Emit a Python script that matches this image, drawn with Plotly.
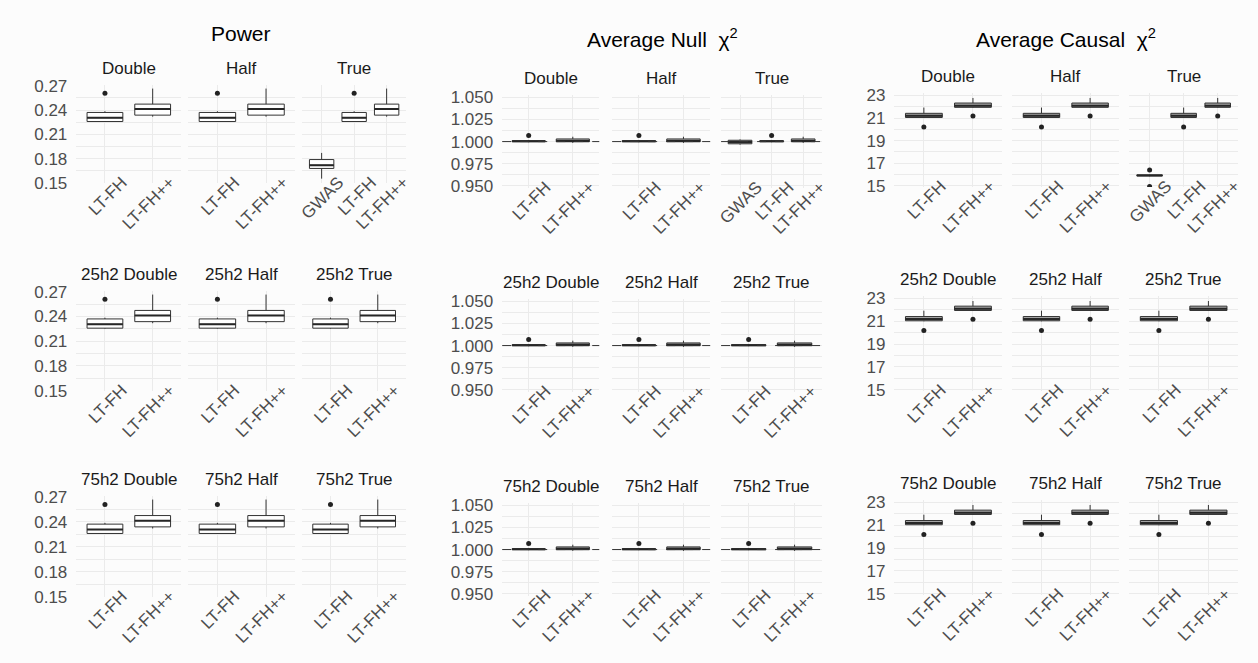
import plotly.graph_objects as go

W, H = 1258, 663

FACETS = ["Double", "Half", "True"]
ROW_PREFIX = ["", "25h2 ", "75h2 "]
METHODS_ALL = ["GWAS", "LT-FH", "LT-FH++"]
METHODS_REL = ["LT-FH", "LT-FH++"]

# box statistics: [lower whisker, q1, median, q3, upper whisker]
POWER_GWAS = [0.1552, 0.1678, 0.1718, 0.1788, 0.1870]
POWER_GWAS_OUT = []
POWER_LTFH = [0.2252, 0.2258, 0.2305, 0.2370, 0.2385]
POWER_LTFH_OUT = [0.2607]
POWER_LTFHPP = [0.2318, 0.2337, 0.2412, 0.2473, 0.2665]
POWER_LTFHPP_OUT = []

NULL_GWAS = [0.9965, 0.9975, 0.9995, 1.0015, 1.0025]
NULL_GWAS_OUT = []
NULL_LTFH = [0.9993, 0.9999, 1.0003, 1.0010, 1.0018]
NULL_LTFH_OUT = [1.0068]
NULL_LTFHPP = [0.9985, 0.9998, 1.0008, 1.0030, 1.0055]
NULL_LTFHPP_OUT = []

CAUSAL_GWAS = [15.85, 15.88, 15.92, 15.97, 16.00]
CAUSAL_GWAS_OUT = [14.95, 16.40]
CAUSAL_LTFH = [21.00, 21.05, 21.20, 21.42, 21.93]
CAUSAL_LTFH_OUT = [20.20]
CAUSAL_LTFHPP = [21.92, 21.95, 22.10, 22.33, 22.78]
CAUSAL_LTFHPP_OUT = [21.18]

POWER_TICKS = [0.15, 0.18, 0.21, 0.24, 0.27]
NULL_TICKS = [0.950, 0.975, 1.000, 1.025, 1.050]
CAUSAL_TICKS = [15, 17, 19, 21, 23]

FONT = "Liberation Sans, Arial, sans-serif"
GRID = "#ebebeb"
BG = "#fcfcfc"

blocks = [
    dict(title="Power",
         stats={"GWAS": (POWER_GWAS, POWER_GWAS_OUT), "LT-FH": (POWER_LTFH, POWER_LTFH_OUT),
                "LT-FH++": (POWER_LTFHPP, POWER_LTFHPP_OUT)},
         ticks=POWER_TICKS, fmt=".2f", yrange=[0.1495, 0.2705], fill="#ffffff", hline=None,
         cols=[(72, 178), (185, 293), (300, 405)],
         rows=[(78.6, 179.4), (290.6, 393.4), (501.6, 605.4)], title_y=25),
    dict(title="Average Null  χ<sup>2</sup>",
         stats={"GWAS": (NULL_GWAS, NULL_GWAS_OUT), "LT-FH": (NULL_LTFH, NULL_LTFH_OUT),
                "LT-FH++": (NULL_LTFHPP, NULL_LTFHPP_OUT)},
         ticks=NULL_TICKS, fmt=".3f", yrange=[0.9475, 1.0525], fill="#a8a8a8", hline=1.0,
         cols=[(502, 600), (613, 712), (723, 825)],
         rows=[(88.7, 184.3), (298.7, 394.3), (508.7, 604.3)], title_y=30),
    dict(title="Average Causal  χ<sup>2</sup>",
         stats={"GWAS": (CAUSAL_GWAS, CAUSAL_GWAS_OUT), "LT-FH": (CAUSAL_LTFH, CAUSAL_LTFH_OUT),
                "LT-FH++": (CAUSAL_LTFHPP, CAUSAL_LTFHPP_OUT)},
         ticks=CAUSAL_TICKS, fmt="d", yrange=[14.9, 23.2], fill="#a8a8a8", hline=None,
         cols=[(898, 1007), (1017, 1125), (1135, 1245)],
         rows=[(86.7, 183.2), (295.7, 393.2), (505.7, 603.2)], title_y=30),
]

fig = go.Figure()
layout = {}
annotations = []
shapes = []
BOXW = 0.75
n = 0
for b in blocks:
    step = b["ticks"][1] - b["ticks"][0]
    for r, (ytop, ybot) in enumerate(b["rows"]):
        for c, (x0, x1) in enumerate(b["cols"]):
            n += 1
            xa = "x" if n == 1 else f"x{n}"
            ya = "y" if n == 1 else f"y{n}"
            methods = METHODS_ALL if (r == 0 and FACETS[c] == "True") else METHODS_REL
            for i, m in enumerate(methods):
                st, outs = b["stats"][m]
                pos = i + 1
                fig.add_trace(go.Box(
                    x=[pos], lowerfence=[st[0]], q1=[st[1]], median=[st[2]], q3=[st[3]],
                    upperfence=[st[4]], width=BOXW, fillcolor=b["fill"],
                    line=dict(color="#333333", width=1), boxpoints=False,
                    whiskerwidth=0, xaxis=xa, yaxis=ya, hoverinfo="skip"))
                fig.add_trace(go.Scatter(
                    x=[pos - BOXW / 2, pos + BOXW / 2], y=[st[2], st[2]], mode="lines",
                    line=dict(color="#262626", width=2), xaxis=xa, yaxis=ya, hoverinfo="skip"))
                if outs:
                    fig.add_trace(go.Scatter(
                        x=[pos] * len(outs), y=outs, mode="markers",
                        marker=dict(color="#222222", size=5), xaxis=xa, yaxis=ya,
                        hoverinfo="skip"))
            kx = "xaxis" if n == 1 else f"xaxis{n}"
            ky = "yaxis" if n == 1 else f"yaxis{n}"
            layout[kx] = dict(
                domain=[x0 / W, x1 / W], anchor=ya, range=[0.4, len(methods) + 0.6],
                tickmode="array", tickvals=list(range(1, len(methods) + 1)), ticktext=methods,
                tickangle=-45, showgrid=True, gridcolor=GRID, gridwidth=1.2, zeroline=False,
                showline=False, ticks="", ticklabelshift=17, ticklabelstandoff=-15,
                tickfont=dict(size=17, color="#4d4d4d", family=FONT),
                fixedrange=True)
            layout[ky] = dict(
                domain=[1 - ybot / H, 1 - ytop / H], anchor=xa, range=b["yrange"],
                tickmode="array", tickvals=b["ticks"],
                ticktext=[format(t, b["fmt"]) if b["fmt"] != "d" else str(int(t)) for t in b["ticks"]],
                showticklabels=(c == 0), showgrid=True, gridcolor=GRID, gridwidth=1.2,
                zeroline=False, showline=False, ticks="", ticklabelstandoff=8,
                minor=dict(tickmode="linear", tick0=b["ticks"][0], dtick=step / 2,
                           showgrid=True, gridcolor=GRID, gridwidth=0.6, ticks=""),
                tickfont=dict(size=17, color="#4d4d4d", family=FONT), fixedrange=True)
            annotations.append(dict(
                text=ROW_PREFIX[r] + FACETS[c], xref=f"{xa} domain", yref=f"{ya} domain",
                x=0.5, y=1, yshift=17, showarrow=False, xanchor="center", yanchor="middle",
                font=dict(size=17, color="#1a1a1a", family=FONT)))
            if b["hline"] is not None:
                shapes.append(dict(
                    type="line", xref=f"{xa} domain", yref=ya, x0=0, x1=1,
                    y0=b["hline"], y1=b["hline"], layer="above",
                    line=dict(color="#333333", width=1, dash="dash")))
    cx = (b["cols"][0][0] + b["cols"][-1][1]) / 2 / W
    annotations.append(dict(
        text=b["title"], xref="paper", yref="paper", x=cx, y=1 - b["title_y"] / H,
        showarrow=False, xanchor="center", yanchor="middle",
        font=dict(size=21, color="#000000", family=FONT)))

fig.update_layout(**layout)
fig.update_layout(
    width=W, height=H, autosize=False, showlegend=False,
    margin=dict(l=0, r=0, t=0, b=0),
    paper_bgcolor=BG, plot_bgcolor=BG,
    annotations=annotations, shapes=shapes,
    font=dict(family=FONT),
)

fig.write_html("out.html", config={"displayModeBar": False},
               post_script="document.body.style.margin='0';document.body.style.padding='0';")
